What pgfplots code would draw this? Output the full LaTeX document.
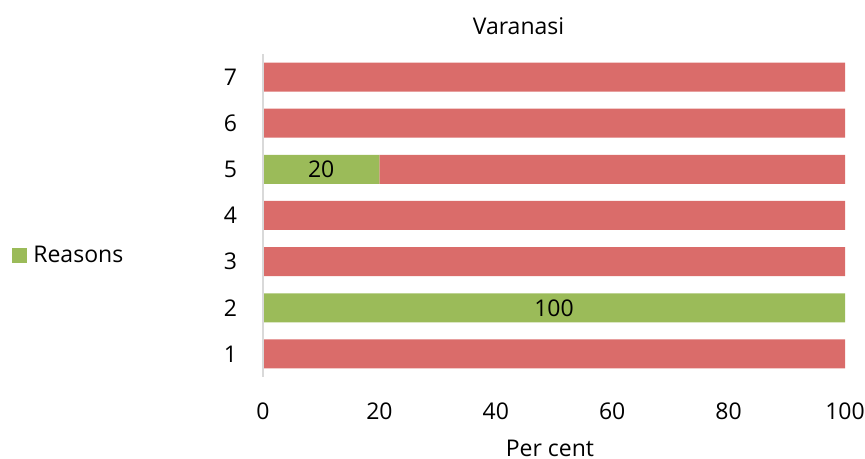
\documentclass[border=0pt]{standalone}
\usepackage{pgfplots}
\pgfplotsset{compat=1.18}
\usepackage{fontspec}
\setmainfont{Open Sans}
\definecolor{redbar}{HTML}{DA6C6A}
\definecolor{greenbar}{HTML}{9BBB59}
\definecolor{axisgrey}{HTML}{D9D9D9}
\begin{document}
\fontsize{11.5}{14}\selectfont
\begin{tikzpicture}
\useasboundingbox (0,0) rectangle (432.5pt,229.5pt);
\begin{axis}[
  at={(131.5pt,41pt)}, anchor=south west,
  scale only axis,
  width=291pt, height=161.5pt,
  xbar stacked,
  bar width=14.5pt,
  xmin=0, xmax=100,
  ymin=0.5, ymax=7.5,
  ytick={1,2,3,4,5,6,7},
  xtick={0,20,40,60,80,100},
  /pgf/number format/assume math mode=true,
  axis line style={draw=none},
  axis y line*=left,
  axis x line*=bottom,
  major tick length=0pt,
  xticklabel shift=9pt,
  yticklabel shift=9pt,
  tick label style={font=\fontsize{11.5}{14}\selectfont},
  title={Varanasi},
  title style={at={(rel axis cs:0.439,1.049)}, anchor=center, font=\fontsize{11.5}{14}\selectfont},
  xlabel={Per cent},
  xlabel style={at={(rel axis cs:0.493,-0.221)}, anchor=center, font=\fontsize{11.5}{14}\selectfont},
  legend style={draw=none, fill=none, at={(rel axis cs:-0.4313,0.3746)}, anchor=west, inner sep=0pt, font=\fontsize{11.5}{14}\selectfont,
    nodes={inner sep=2pt}},
  legend cell align=left,
  clip=false,
]
\draw[axisgrey, line width=0.8pt] (rel axis cs:0,0) -- (rel axis cs:0,1);
\addplot[fill=greenbar, draw=none,
  point meta=x,
  visualization depends on={rawx \as \rawx},
  nodes near coords={\ifdim\rawx pt>0.5pt \pgfmathprintnumber{\rawx}\fi},
  every node near coord/.append style={anchor=center, font=\fontsize{11.5}{14}\selectfont, text=black},
  legend image code/.code={\fill[greenbar] (0pt,-3.75pt) rectangle (7.5pt,3.75pt);}
] coordinates {(0,1) (100,2) (0,3) (0,4) (20,5) (0,6) (0,7)};
\addlegendentry{\hspace{1pt}Reasons}
\addplot[fill=redbar, draw=none, forget plot] coordinates {(100,1) (0,2) (100,3) (100,4) (80,5) (100,6) (100,7)};
\end{axis}
\end{tikzpicture}
\end{document}
